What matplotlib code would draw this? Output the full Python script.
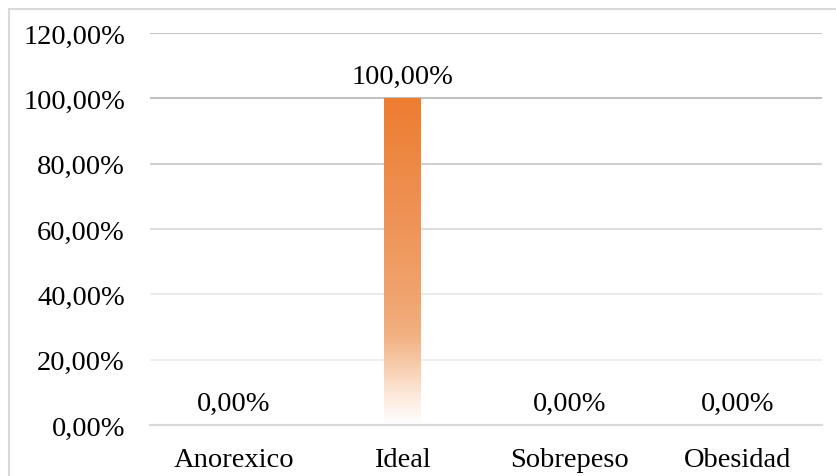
import matplotlib
matplotlib.use('Agg')
import matplotlib.pyplot as plt
import numpy as np
from matplotlib.colors import LinearSegmentedColormap
from matplotlib.patches import Rectangle

categorias = ['Anorexico', 'Ideal', 'Sobrepeso', 'Obesidad']
porcentajes = [0.0, 100.0, 0.0, 0.0]
ticks_y = [0, 20, 40, 60, 80, 100, 120]

# gradient for the bars: white at the base, Excel orange at the top
degradado = LinearSegmentedColormap.from_list('naranja', [
    (0.00, '#ffffff'),
    (0.10, '#fce6d6'),
    (0.20, '#f6c6a3'),
    (0.28, '#f2af80'),
    (0.40, '#f0a36c'),
    (0.60, '#ef955a'),
    (0.80, '#ee8945'),
    (1.00, '#ed7d31'),
])

plt.rcParams['font.family'] = ['Liberation Serif', 'DejaVu Serif']
tam = 20.5

fig = plt.figure(figsize=(8.36, 4.77), dpi=100)
ax = fig.add_axes([150 / 836, 51 / 477, 672 / 836, 392 / 477])

x = np.arange(len(categorias))
ancho = 0.22
barras = ax.bar(x, porcentajes, width=ancho, color='none', zorder=3)

for b in barras:
    if b.get_height() <= 0:
        continue
    x0, y0 = b.get_x(), b.get_y()
    x1, y1 = x0 + b.get_width(), y0 + b.get_height()
    grad = np.linspace(0, 1, 256).reshape(-1, 1)
    img = ax.imshow(grad, cmap=degradado, origin='lower', aspect='auto',
                    extent=(x0, x1, y0, y1), zorder=3, interpolation='bilinear')
    img.set_clip_path(b)

for xi, v in zip(x, porcentajes):
    ax.annotate(f'{v:.2f}%'.replace('.', ','), xy=(xi, v), xytext=(0, 6.5),
                textcoords='offset points', ha='center', va='bottom',
                fontsize=tam, color='#000000', zorder=4)

ax.set_xlim(-0.5, len(categorias) - 0.5)
ax.set_ylim(0, 120)
ax.set_yticks(ticks_y)
ax.set_yticklabels([f'{t:.2f}%'.replace('.', ',') for t in ticks_y])
ax.set_xticks(x)
ax.set_xticklabels(categorias)

ax.tick_params(axis='y', length=0, pad=18, labelsize=tam)
ax.tick_params(axis='x', length=0, pad=15.5, labelsize=tam)

for s in ['top', 'right', 'left']:
    ax.spines[s].set_visible(False)
ax.spines['bottom'].set_color('#d9d9d9')
ax.spines['bottom'].set_linewidth(1.5)
ax.spines['bottom'].set_zorder(4)

ax.grid(axis='y', linewidth=1.5, zorder=0)
ax.set_axisbelow(True)
colores_grid = ['#d9d9d9', '#f0f0f0', '#ebebeb', '#dedede', '#d0d0d0', '#c0c0c0', '#c4c4c4']
for linea, c in zip(ax.yaxis.get_gridlines(), colores_grid):
    linea.set_color(c)

# chart frame, cut off on the right and bottom
fig.add_artist(Rectangle((9 / 836, -0.1), 1.2, 1.1 - 10 / 477,
                         transform=fig.transFigure, fill=False,
                         edgecolor='#d9d9d9', linewidth=1.5))

fig.savefig('out.png', dpi=100, facecolor='white')
